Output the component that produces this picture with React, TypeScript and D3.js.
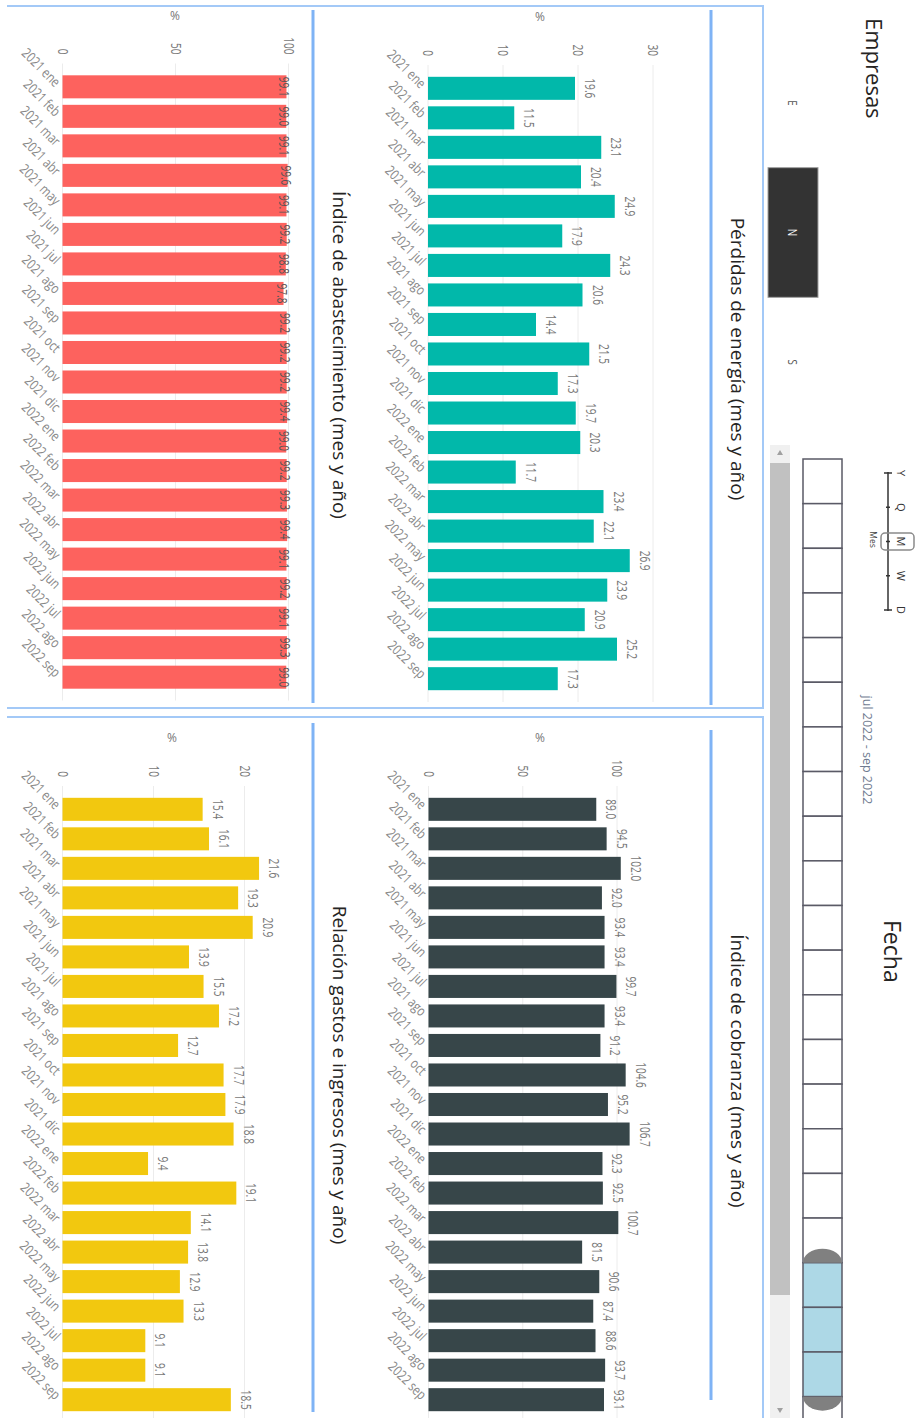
import React from "react";
import * as d3 from "d3";

// ---------- data ----------
const months = [
  "2021 ene", "2021 feb", "2021 mar", "2021 abr", "2021 may", "2021 jun", "2021 jul",
  "2021 ago", "2021 sep", "2021 oct", "2021 nov", "2021 dic", "2022 ene", "2022 feb",
  "2022 mar", "2022 abr", "2022 may", "2022 jun", "2022 jul", "2022 ago", "2022 sep",
];
const perdidas = [19.6, 11.5, 23.1, 20.4, 24.9, 17.9, 24.3, 20.6, 14.4, 21.5, 17.3, 19.7, 20.3, 11.7, 23.4, 22.1, 26.9, 23.9, 20.9, 25.2, 17.3];
const abastecimiento = [99.1, 99.0, 99.1, 99.6, 99.1, 99.2, 98.8, 97.8, 99.2, 99.2, 99.2, 99.4, 99.0, 99.2, 99.3, 99.4, 99.1, 99.2, 99.1, 99.3, 99.0];
const cobranza = [89.0, 94.5, 102.0, 92.0, 93.4, 93.4, 99.7, 93.4, 91.2, 104.6, 95.2, 106.7, 92.3, 92.5, 100.7, 81.5, 90.6, 87.4, 88.6, 93.7, 93.1];
const relacion = [15.4, 16.1, 21.6, 19.3, 20.9, 13.9, 15.5, 17.2, 12.7, 17.7, 17.9, 18.8, 9.4, 19.1, 14.1, 13.8, 12.9, 13.3, 9.1, 9.1, 18.5];

const perdidasTicks = [0, 10, 20, 30];
const abastecimientoTicks = [0, 50, 100];
const cobranzaTicks = [0, 50, 100];
const relacionTicks = [0, 10, 20];

const empresas = ["E", "N", "S"];
const empresaSel = "N";
const granularidades = ["Y", "Q", "M", "W", "D"];
const granularidadSel = "M";
const granularidadNombre = "Mes";
const timelinePeriods = [...months, "2022 oct", "2022 nov", "2022 dic"];
const timelineSel = ["2022 jul", "2022 ago", "2022 sep"];
const rangoTexto = "jul 2022 - sep 2022";

// ---------- styles ----------
const TITLE_FONT = "'Segoe UI', 'Open Sans', sans-serif";
const LABEL_FONT = "'Open Sans', 'Segoe UI', sans-serif";
const SQ = 0.72;
const BORDER = "#a3c9f7";
const ACCENT = "#7fb3f5";
const fmt = d3.format(".1f");

type ChartCfg = {
  title: string;
  values: number[];
  ticks: number[];
  max: number;
  color: string;
  x0: number;
  x1: number;
  zeroY: number;
  topY: number;
  pctY: number;
  titleX: number;
  titleY: number;
  lineX0: number;
  lineX1: number;
  lineY: number;
  inside?: boolean;
};

function BarChart({ c }: { c: ChartCfg }) {
  const x = d3.scaleBand<string>().domain(months).range([c.x0, c.x1]).paddingInner(0.22).paddingOuter(0.4);
  const y = d3.scaleLinear().domain([0, c.max]).range([c.zeroY, c.topY]);
  const bw = x.bandwidth();
  return (
    <g>
      <text x={c.titleX} y={c.titleY} textAnchor="middle" fontFamily={TITLE_FONT} fontSize={19} fill="#252423">
        {c.title}
      </text>
      <line x1={c.lineX0} x2={c.lineX1} y1={c.lineY} y2={c.lineY} stroke={ACCENT} strokeWidth={3} />
      {c.ticks.map((t) => (
        <g key={t}>
          <line x1={c.x0} x2={c.x1} y1={y(t)} y2={y(t)} stroke="#ececec" strokeWidth={1} />
          <text
            transform={`translate(${c.x0 - 9},${y(t) + 5}) scale(${SQ},1)`}
            textAnchor="end"
            fontFamily={LABEL_FONT}
            fontSize={14}
            fill="#777"
          >
            {t}
          </text>
        </g>
      ))}
      <text
        transform={`translate(${c.x0 - 44},${c.pctY}) rotate(-90)`}
        textAnchor="middle"
        fontFamily={LABEL_FONT}
        fontSize={12}
        fill="#777"
      >
        %
      </text>
      {months.map((m, i) => {
        const v = c.values[i];
        const bx = x(m) as number;
        const top = y(v);
        const cx = bx + bw / 2;
        return (
          <g key={m}>
            <rect x={bx} y={top} width={bw} height={c.zeroY - top} fill={c.color} />
            <text
              transform={`translate(${cx},${c.inside ? top + 7 : top - 10}) scale(${SQ},1)`}
              textAnchor="middle"
              fontFamily={LABEL_FONT}
              fontSize={14}
              fill={c.inside ? "#555" : "#777"}
            >
              {fmt(v)}
            </text>
            <text
              transform={`translate(${cx + 1},${c.zeroY + 8}) rotate(-45) scale(0.8,1)`}
              textAnchor="end"
              fontFamily={LABEL_FONT}
              fontSize={14}
              fill="#888"
            >
              {m}
            </text>
          </g>
        );
      })}
    </g>
  );
}

const charts: ChartCfg[] = [
  {
    title: "Pérdidas de energía (mes y año)", values: perdidas, ticks: perdidasTicks, max: 30, color: "#01B8AA",
    x0: 65, x1: 702, zeroY: 487, topY: 262, pctY: 375, titleX: 359, titleY: 184, lineX0: 10, lineX1: 705, lineY: 204,
  },
  {
    title: "Índice de abastecimiento (mes y año)", values: abastecimiento, ticks: abastecimientoTicks, max: 100, color: "#FD625E",
    x0: 63.5, x1: 700.5, zeroY: 852.5, topY: 626.5, pctY: 740, titleX: 355, titleY: 582, lineX0: 10, lineX1: 703, lineY: 602, inside: true,
  },
  {
    title: "Índice de cobranza (mes y año)", values: cobranza, ticks: cobranzaTicks, max: 100, color: "#374649",
    x0: 786, x1: 1423, zeroY: 486.5, topY: 298, pctY: 375, titleX: 1071, titleY: 184, lineX0: 730, lineX1: 1400, lineY: 204,
  },
  {
    title: "Relación gastos e ingresos (mes y año)", values: relacion, ticks: relacionTicks, max: 20, color: "#F2C80F",
    x0: 786, x1: 1423, zeroY: 852.5, topY: 670.5, pctY: 743, titleX: 1075, titleY: 582, lineX0: 723, lineX1: 1412, lineY: 602,
  },
];

function Header() {
  const bx = d3.scaleBand<string>().domain(empresas).range([38, 427]);
  const gx = d3.scalePoint<string>().domain(granularidades).range([473, 610]);
  const tx = d3.scaleBand<string>().domain(timelinePeriods).range([459, 459 + 44.65 * timelinePeriods.length]);
  const selStart = tx(timelineSel[0]) as number;
  const selEnd = (tx(timelineSel[timelineSel.length - 1]) as number) + tx.bandwidth();
  const ty0 = 73;
  const ty1 = 112;
  const tmid = (ty0 + ty1) / 2;
  return (
    <g>
      {/* Empresas slicer */}
      <text x={18} y={49} fontFamily={TITLE_FONT} fontSize={22} fill="#252423">Empresas</text>
      {empresas.map((e) => {
        const x0 = bx(e) as number;
        const sel = e === empresaSel;
        return (
          <g key={e}>
            {sel && <rect x={x0} y={97} width={bx.bandwidth()} height={50} fill="#333333" stroke="#a0a0a0" strokeWidth={1} />}
            <text
              transform={`translate(${x0 + bx.bandwidth() / 2},${127}) scale(0.75,1)`}
              textAnchor="middle"
              fontFamily={LABEL_FONT}
              fontSize={13}
              fill={sel ? "#ffffff" : "#555"}
            >
              {e}
            </text>
          </g>
        );
      })}

      {/* Fecha timeline */}
      <text x={920} y={31} fontFamily={TITLE_FONT} fontSize={23} fill="#252423">Fecha</text>
      <line x1={472} x2={611} y1={27} y2={27} stroke="#333" strokeWidth={1.5} />
      {granularidades.map((g, i) => {
        const gxp = gx(g) as number;
        const end = i === 0 || i === granularidades.length - 1;
        return (
          <g key={g}>
            <line x1={gxp} x2={gxp} y1={end ? 23 : 25} y2={end ? 31 : 29} stroke="#333" strokeWidth={1.5} />
            <text x={gxp} y={18} textAnchor="middle" fontFamily={LABEL_FONT} fontSize={11} fill="#333">{g}</text>
            {g === granularidadSel && (
              <>
                <rect x={gxp - 8.5} y={1} width={17} height={33} rx={4} fill="none" stroke="#8a8a8a" strokeWidth={1.5} />
                <text x={gxp - 2} y={45} textAnchor="middle" fontFamily={LABEL_FONT} fontSize={8.5} fill="#444">{granularidadNombre}</text>
              </>
            )}
          </g>
        );
      })}
      <text x={750} y={52} textAnchor="middle" fontFamily={LABEL_FONT} fontSize={12.5} fill="#6f7b90">{rangoTexto}</text>
      {timelinePeriods.map((p) => {
        const x0 = tx(p) as number;
        const sel = timelineSel.includes(p);
        return (
          <rect key={p} x={x0} y={ty0} width={tx.bandwidth()} height={ty1 - ty0} fill={sel ? "#ADD8E6" : "#ffffff"} stroke="#5a5a66" strokeWidth={1.5} />
        );
      })}
      <path d={`M${selStart},${ty0} A14,19.5 0 0 0 ${selStart},${ty1} Z`} fill="#808080" />
      <path d={`M${selEnd},${ty0} A14,19.5 0 0 1 ${selEnd},${ty1} Z`} fill="#808080" />
      {/* scrollbar */}
      <rect x={445} y={125} width={1000} height={20} fill="#f0f0f0" />
      <rect x={463} y={125} width={832} height={20} fill="#c1c1c1" />
      <path d="M450,135 L455,132 L455,138 Z" fill="#a0a0a0" />
      <path d="M1413,135 L1408,132 L1408,138 Z" fill="#a0a0a0" />
    </g>
  );
}

export default function App() {
  return (
    <svg width={915} height={1418} style={{ position: "absolute", left: 0, top: 0, background: "#fff" }}>
      <rect width={915} height={1418} fill="#ffffff" />
      <g transform="translate(915,0) rotate(90)">
        <Header />
        <path d="M6,908 V152 H708 V908" fill="none" stroke={BORDER} strokeWidth={2} />
        <path d="M717,908 V152 H1430" fill="none" stroke={BORDER} strokeWidth={2} />
        {charts.map((c) => (
          <BarChart key={c.title} c={c} />
        ))}
      </g>
    </svg>
  );
}
